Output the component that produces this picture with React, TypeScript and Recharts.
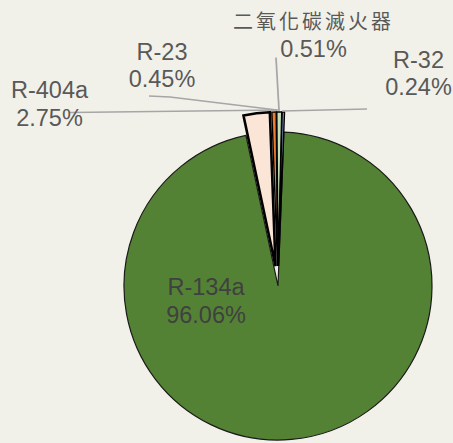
import React from 'react';
import { PieChart, Pie, Cell, Sector } from 'recharts';

// refrigerant shares (%)
const categories = ['R-134a', 'R-404a', 'R-23', '二氧化碳滅火器', 'R-32'];
const shares = [96.06, 2.75, 0.45, 0.51, 0.24];

const sliceColors = ['#548235', '#fbe5d6', '#ed7d31', '#c5e0b4', '#8faadc'];
const sliceStrokes = [1.2, 2.6, 1.4, 1.4, 1.4];
const exploded = [false, true, true, true, true];

const data = categories.map((name, i) => ({ name, value: shares[i] }));

const W = 453;
const H = 443;
const CX = 278;
const CY = 286;
const RADIUS = 154;
const EXPLODE = 20;
const RADIAN = Math.PI / 180;

const latinFont = '"Liberation Sans", Arial, sans-serif';
const cjkFont = '"Noto Sans CJK TC", "Noto Sans CJK SC", sans-serif';

// label placement relative to the pie centre (text centre x, baselines, leader polyline)
type LabelLayout = {
    dx: number;
    baselines: number[];
    leader?: [number, number][];
    color: string;
};

const labelLayout: LabelLayout[] = [
    { dx: -72, baselines: [9, 37], color: '#404040' },
    { dx: -228.5, baselines: [-188, -160], leader: [[-208, -173.5], [2, -176]], color: '#595959' },
    { dx: -116, baselines: [-226, -199], leader: [[-129, -190], [-108, -189], [-1, -176]], color: '#595959' },
    { dx: 35.5, baselines: [-257, -229], leader: [[-2, -228.5], [1, -176]], color: '#595959' },
    { dx: 140.5, baselines: [-218, -191], leader: [[89, -177], [4, -175]], color: '#595959' },
];

const renderSliceLabel = (props: any) => {
    const { cx, cy, midAngle, innerRadius, outerRadius, startAngle, endAngle, index } = props;
    const lay = labelLayout[index];
    const name = categories[index];
    const pct = `${shares[index].toFixed(2)}%`;
    const isCjk = /[\u4e00-\u9fff]/.test(name);

    // exploded slices are pushed out along their mid angle
    let sector = null;
    if (exploded[index]) {
        const ox = EXPLODE * Math.cos(-midAngle * RADIAN);
        const oy = EXPLODE * Math.sin(-midAngle * RADIAN);
        sector = (
            <Sector
                cx={cx + ox}
                cy={cy + oy}
                innerRadius={innerRadius}
                outerRadius={outerRadius}
                startAngle={startAngle}
                endAngle={endAngle}
                fill={sliceColors[index]}
                stroke="#000"
                strokeWidth={sliceStrokes[index]}
            />
        );
    }

    return (
        <g key={`lbl-${index}`}>
            {sector}
            {lay.leader && (
                <polyline
                    points={lay.leader.map(([x, y]) => `${cx + x},${cy + y}`).join(' ')}
                    fill="none"
                    stroke="#a6a6a6"
                    strokeWidth={1.75}
                />
            )}
            <text textAnchor="middle" fill={lay.color} fontSize={23.5} fontFamily={latinFont}>
                <tspan
                    x={cx + lay.dx}
                    y={cy + lay.baselines[0]}
                    fontFamily={isCjk ? cjkFont : latinFont}
                    fontSize={isCjk ? 20 : 23.5}
                    letterSpacing={isCjk ? 3 : 0}
                >
                    {name}
                </tspan>
                <tspan x={cx + lay.dx} y={cy + lay.baselines[1]}>
                    {pct}
                </tspan>
            </text>
        </g>
    );
};

export default function App() {
    return (
        <div style={{ position: 'absolute', left: 0, top: 0, width: W, height: H, background: '#f2f1e9' }}>
            <PieChart width={W} height={H} margin={{ top: 0, right: 0, bottom: 0, left: 0 }}>
                <Pie
                    data={data}
                    dataKey="value"
                    nameKey="name"
                    cx={CX}
                    cy={CY}
                    outerRadius={RADIUS}
                    startAngle={87.8}
                    endAngle={-272.2}
                    isAnimationActive={false}
                    labelLine={false}
                    label={renderSliceLabel}
                >
                    {data.map((_, i) => (
                        <Cell
                            key={`cell-${i}`}
                            fill={exploded[i] ? 'transparent' : sliceColors[i]}
                            stroke={exploded[i] ? 'none' : '#1a1a1a'}
                            strokeWidth={sliceStrokes[i]}
                        />
                    ))}
                </Pie>
            </PieChart>
        </div>
    );
}
